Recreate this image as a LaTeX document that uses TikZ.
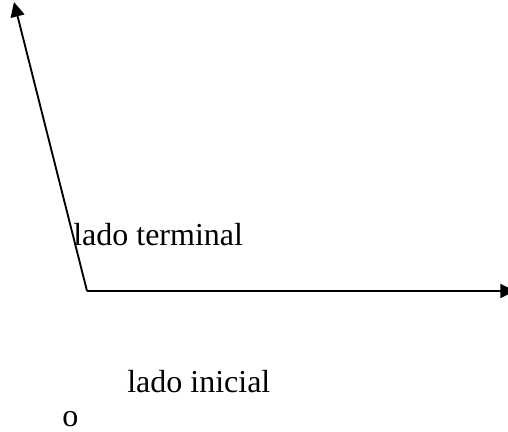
\documentclass[tikz,border=0pt]{standalone}
\usepackage{fontspec}
\setmainfont{Liberation Serif}
\usetikzlibrary{arrows.meta}
\begin{document}
\begin{tikzpicture}[x=0.75pt,y=-0.75pt,
  side/.style={line width=1.4pt,-{Triangle[length=11pt,width=10.5pt]}},
  lbl/.style={anchor=base west,inner sep=0pt,font=\fontsize{24}{28}\selectfont}]
\useasboundingbox (0,0) rectangle (508,432);
\clip (0,0) rectangle (508,432);
\coordinate (V) at (87,291);
\coordinate (T) at (14,2);
\coordinate (I) at (515,291);
\draw[side] (V) -- (T);
\draw[side] (V) -- (I);
\node[lbl] (term) at (73,245) {lado terminal};
\node[lbl] (ini) at (127,392) {lado inicial};
\node[lbl] (o) at (62,426) {o};
\end{tikzpicture}
\end{document}
